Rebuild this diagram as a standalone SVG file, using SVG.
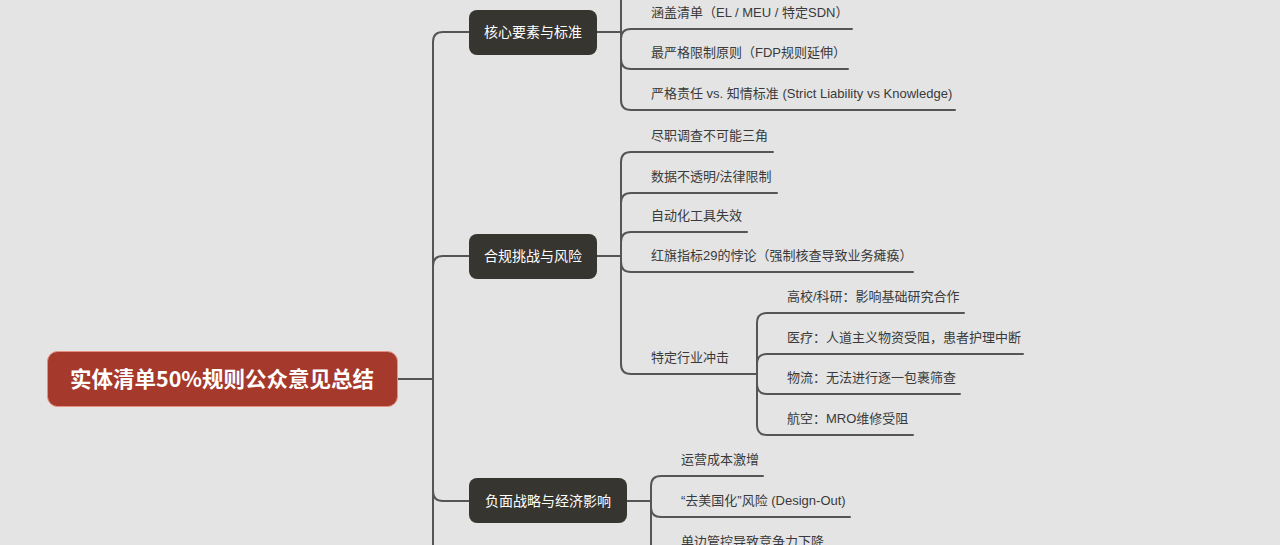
<svg xmlns="http://www.w3.org/2000/svg" width="1280" height="545" viewBox="0 0 1280 545">
<style>
.bg{fill:#e4e4e4}
.ln{fill:none;stroke:#555555;stroke-width:2;stroke-linecap:round}
.box{fill:#36352f}
.bt{font-family:"Noto Sans CJK SC","Noto Sans",sans-serif;font-size:14px;fill:#ffffff;text-anchor:middle}
.ct{font-family:"Liberation Sans","Noto Sans CJK SC",sans-serif;font-size:13px;fill:#3a3a3a}
.root{fill:#a5392b;stroke:#e6917f;stroke-width:1}
.rt{font-family:"Noto Sans CJK SC","Noto Sans",sans-serif;font-size:21.5px;font-weight:bold;fill:#ffffff;text-anchor:middle}
</style>
<rect class="bg" x="0" y="0" width="1280" height="545"/>
<g id="connectors">
<path class="ln" d="M397,379 H433"/>
<path class="ln" d="M433,42 V560"/>
<path class="ln" d="M433,42 Q433,32 443,32 H469"/>
<path class="ln" d="M433,266 Q433,256 443,256 H469"/>
<path class="ln" d="M433,491 Q433,501 443,501 H469"/>
<path class="ln" d="M597,32 H621"/>
<path class="ln" d="M621,-10 V100"/>
<path class="ln" d="M621,39 Q621,29 631,29 H852"/>
<path class="ln" d="M621,59 Q621,69 631,69 H848"/>
<path class="ln" d="M621,100 Q621,110 631,110 H955"/>
<path class="ln" d="M597,256 H621"/>
<path class="ln" d="M621,162 V364"/>
<path class="ln" d="M621,162 Q621,152 631,152 H773"/>
<path class="ln" d="M621,203 Q621,193 631,193 H777"/>
<path class="ln" d="M621,242 Q621,232 631,232 H747"/>
<path class="ln" d="M621,262 Q621,272 631,272 H913"/>
<path class="ln" d="M621,364 Q621,374 631,374 H757"/>
<path class="ln" d="M757,323 V425"/>
<path class="ln" d="M757,323 Q757,313 767,313 H964"/>
<path class="ln" d="M757,364 Q757,354 767,354 H1023"/>
<path class="ln" d="M757,384 Q757,394 767,394 H960"/>
<path class="ln" d="M757,425 Q757,435 767,435 H913"/>
<path class="ln" d="M627,501 H651"/>
<path class="ln" d="M651,486 V560"/>
<path class="ln" d="M651,486 Q651,476 661,476 H763"/>
<path class="ln" d="M651,507 Q651,517 661,517 H850"/>
<path class="ln" d="M651,548 Q651,558 661,558 H830"/>
</g>
<g id="root">
<rect class="root" x="47.5" y="351.5" width="350" height="55" rx="10"/>
<text class="rt" x="222" y="387">实体清单50%规则公众意见总结</text>
</g>
<g id="b1">
<rect class="box" x="469" y="10" width="128" height="45" rx="8"/>
<text class="bt" x="533" y="37">核心要素与标准</text>
</g>
<g id="b1c1"><text class="ct" x="651" y="17">涵盖清单（EL / MEU / 特定SDN）</text></g>
<g id="b1c2"><text class="ct" x="651" y="57">最严格限制原则（FDP规则延伸）</text></g>
<g id="b1c3"><text class="ct" x="651" y="98">严格责任 vs. 知情标准 (Strict Liability vs Knowledge)</text></g>
<g id="b2">
<rect class="box" x="469" y="234" width="128" height="45" rx="8"/>
<text class="bt" x="533" y="261">合规挑战与风险</text>
</g>
<g id="b2c1"><text class="ct" x="651" y="140">尽职调查不可能三角</text></g>
<g id="b2c2"><text class="ct" x="651" y="181">数据不透明/法律限制</text></g>
<g id="b2c3"><text class="ct" x="651" y="220">自动化工具失效</text></g>
<g id="b2c4"><text class="ct" x="651" y="260">红旗指标29的悖论（强制核查导致业务瘫痪）</text></g>
<g id="b2c5"><text class="ct" x="651" y="362">特定行业冲击</text></g>
<g id="b2c5a"><text class="ct" x="787" y="301">高校/科研：影响基础研究合作</text></g>
<g id="b2c5b"><text class="ct" x="787" y="342">医疗：人道主义物资受阻，患者护理中断</text></g>
<g id="b2c5c"><text class="ct" x="787" y="382">物流：无法进行逐一包裹筛查</text></g>
<g id="b2c5d"><text class="ct" x="787" y="423">航空：MRO维修受阻</text></g>
<g id="b3">
<rect class="box" x="469" y="478" width="158" height="45" rx="8"/>
<text class="bt" x="548" y="506">负面战略与经济影响</text>
</g>
<g id="b3c1"><text class="ct" x="681" y="464">运营成本激增</text></g>
<g id="b3c2"><text class="ct" x="681" y="505">“去美国化”风险 (Design-Out)</text></g>
<g id="b3c3"><text class="ct" x="681" y="546">单边管控导致竞争力下降</text></g>
</svg>
